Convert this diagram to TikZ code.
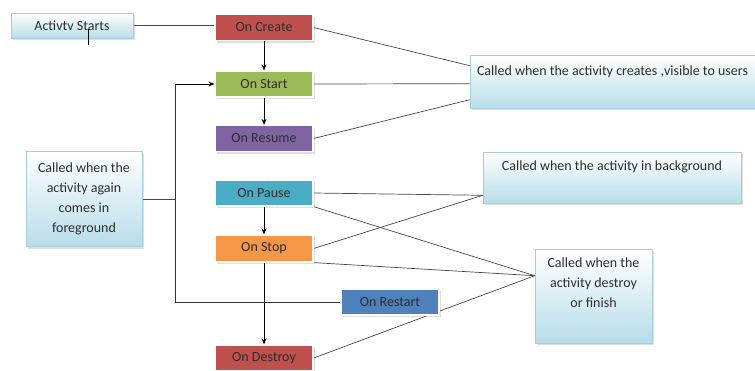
\documentclass[tikz,border=0pt]{standalone}
\usepackage{fontspec}
\setmainfont{Carlito}
\usetikzlibrary{shadows,calc,arrows.meta,backgrounds}
\definecolor{ored}{HTML}{C0504D}
\definecolor{ogreen}{HTML}{9BBB59}
\definecolor{opurple}{HTML}{8064A2}
\definecolor{oteal}{HTML}{4BACC6}
\definecolor{oorange}{HTML}{F79646}
\definecolor{oblue}{HTML}{4F81BD}
\definecolor{notebl}{HTML}{B7DDE8}
\definecolor{notebd}{HTML}{A8CEDB}
\definecolor{txt}{HTML}{2E2E2E}
\begin{document}
\begin{tikzpicture}[x=1pt,y=-1pt,
  font=\fontsize{14}{20}\selectfont,
  state/.style={rectangle, minimum width=98pt, minimum height=26pt, inner sep=0pt,
    draw=white, line width=1.2pt, text=txt,
    drop shadow={opacity=0.25, shadow xshift=1.5pt, shadow yshift=-2pt}},
  note/.style={rectangle, draw=notebd, line width=0.6pt, top color=white, bottom color=notebl,
    text=txt, align=center, inner sep=5pt,
    drop shadow={opacity=0.25, shadow xshift=1.5pt, shadow yshift=-2pt}},
  conn/.style={draw=black!72, line width=0.7pt},
  arr/.style={draw=black, line width=0.8pt, -{Stealth[length=6pt,width=5pt]}}]
\useasboundingbox (0,0) rectangle (755,370);

% note boxes
\node[note, minimum width=122pt, minimum height=25pt, inner sep=0pt] (as) at (72,25.5) {Activtv Starts};
\node[note, minimum width=116pt, minimum height=95pt] (fg) at (84,199)
  {Called when the\\activity again\\comes in\\foreground};
\node[note, minimum width=285pt, minimum height=53pt, text height=15pt, text depth=28pt] (vis) at (612.5,81.5)
  {Called when the activity creates ,visible to users};
\node[note, minimum width=258pt, minimum height=51pt, text height=13pt, text depth=28pt] (bg) at (612,177.5)
  {Called when the activity in background};
\node[note, minimum width=117pt, minimum height=94pt] (dbox) at (593.5,296)
  {Called when the\\activity destroy\\or finish\\\strut};

% state boxes
\node[state, fill=ored] (create) at (264,27.5) {On Create};
\node[state, fill=ogreen] (startn) at (264,84) {On Start};
\node[state, fill=opurple] (resume) at (264,138.5) {On Resume};
\node[state, fill=oteal] (pause) at (264,193) {On Pause};
\node[state, fill=oorange, minimum height=27pt] (stop) at (264,248.5) {On Stop};
\node[state, fill=oblue] (restart) at (390,302) {On Restart};
\node[state, fill=ored] (destroy) at (264,358) {On Destroy};

% connector end points on the note boxes
\coordinate (v1) at ($(vis.north west)+(0,11)$);
\coordinate (v2) at ($(vis.north west)+(0,29)$);
\coordinate (v3) at ($(vis.north west)+(0,45)$);
\coordinate (b1) at ($(bg.south west)+(0,-8)$);
\coordinate (d1) at ($(dbox.north west)+(0,27)$);
\coordinate (lt) at (175,84);
\coordinate (lb) at (175,302);

% connectors (below the boxes)
\begin{scope}[on background layer]
\draw[conn] (as.east) -- (as.east -| create.west);
\draw[conn] (create.east) -- (v1);
\draw[conn] (startn.east) -- (v2);
\draw[conn] (resume.east) -- (v3);
\draw[conn] (pause.east) -- (b1);
\draw[conn] (stop.east) -- (b1);
\draw[conn] (pause.south east) -- (d1);
\draw[conn] (stop.south east) -- (d1);
\draw[conn] (destroy.east) -- (d1);
\draw[conn] (fg.east) -- (fg.east -| lb);
\end{scope}

% arrows
\draw[arr] (create.south) -- (startn.north);
\draw[arr] (startn.south) -- (resume.north);
\draw[arr] (pause.south) -- (stop.north);
\draw[arr] (stop.south) -- (destroy.north);
\draw[conn, draw=black!80] (restart.west) -- (lb) -- (lt);
\draw[arr] (lt) -- (startn.west);

% text cursor mark
\draw[line width=0.9pt] (88,29) -- (88,45);
\end{tikzpicture}
\end{document}
